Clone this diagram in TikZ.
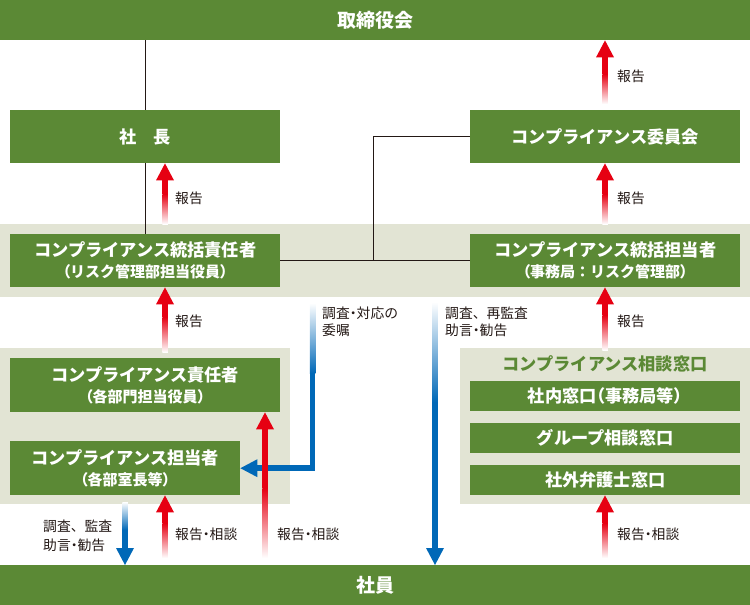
\documentclass[tikz,border=0pt]{standalone}
\usepackage{fontspec}
\setmainfont{Noto Sans CJK JP}
\newfontfamily\jpp[RawFeature=+palt]{Noto Sans CJK JP}
\usetikzlibrary{calc}
\definecolor{grn}{RGB}{91,137,53}
\definecolor{bandc}{RGB}{226,228,212}
\definecolor{arred}{RGB}{230,0,18}
\definecolor{arblue}{RGB}{0,104,183}
\definecolor{ink}{RGB}{35,24,21}
% narrow (proportional) punctuation
\newcommand{\lpar}{{\jpp（}}
\newcommand{\rpar}{{\jpp）}}
\newcommand{\ndot}{{\jpp ・}}
% vertical gradient arrows: #1 colour, #2 tail, #3 tip, #4 fade length
\newcommand{\upgrad}[4]{%
  \shade[top color=#1, bottom color=white] ($(#2)+(-2.75,0)$) rectangle ($(#2)+(2.75,-#4)$);
  \fill[#1] ($(#2)+(-2.75,-#4+0.4)$) rectangle ($(#3)+(2.75,16.5)$);
  \fill[#1] (#3) -- ($(#3)+(-9,17)$) -- ($(#3)+(9,17)$) -- cycle;
}
\newcommand{\downgrad}[4]{%
  \shade[top color=white, bottom color=#1] ($(#2)+(-2.75,0)$) rectangle ($(#2)+(2.75,#4)$);
  \fill[#1] ($(#2)+(-2.75,#4-0.4)$) rectangle ($(#3)+(2.75,-16.5)$);
  \fill[#1] (#3) -- ($(#3)+(-9,-17)$) -- ($(#3)+(9,-17)$) -- cycle;
}
\tikzset{
  gbox/.style={fill=grn, text=white, inner sep=0pt, anchor=north west, align=center,
    font=\fontsize{17.2}{21}\selectfont\bfseries},
  bigbar/.style={gbox, minimum width=750pt, minimum height=40pt, font=\fontsize{19}{22}\selectfont\bfseries},
  wbox/.style={gbox, minimum width=270pt, minimum height=53pt},
  sbox/.style={gbox, minimum width=270pt, minimum height=30pt},
  lbl/.style={text=ink, inner sep=0pt, anchor=west, align=left, font=\fontsize{13.8}{17}\selectfont},
  conn/.style={draw=ink, line width=0.8pt},
}
\newcommand{\subt}[1]{{\fontsize{15}{21}\selectfont\bfseries #1}}
\begin{document}
\begin{tikzpicture}[x=1pt, y=-1pt]
\useasboundingbox (0,0) rectangle (750,605);
% background bands
\fill[bandc] (0,224) rectangle (750,297);
\fill[bandc] (0,348) rectangle (290,504);
\fill[bandc] (460,348) rectangle (750,504);

% boxes
\node[bigbar] (board) at (0,0) {取締役会};
\node[bigbar] (shain) at (0,565) {社員};
\node[wbox] (shacho) at (10,110) {社　長};
\node[wbox] (iinkai) at (470,110) {コンプライアンス委員会};
\node[wbox] (tsekinin) at (10,234) {コンプライアンス統括責任者\\\subt{\lpar リスク管理部担当役員\rpar}};
\node[wbox] (ttanto) at (470,234) {コンプライアンス統括担当者\\\subt{\lpar 事務局：リスク管理部\rpar}};
\node[wbox, minimum height=54pt] (sekinin) at (10,358) {コンプライアンス責任者\\\subt{\lpar 各部門担当役員\rpar}};
\node[wbox, minimum width=230pt, minimum height=54pt] (tanto) at (10,441) {コンプライアンス担当者\\\subt{\lpar 各部室長等\rpar}};
\node[text=grn, inner sep=0pt, font=\fontsize{17.2}{20}\selectfont\bfseries] (mtitle) at (605,364) {コンプライアンス相談窓口};
\node[sbox] (shanai) at (470,381) {社内窓口\lpar 事務局等\rpar};
\node[sbox] (group) at (470,423) {グループ相談窓口};
\node[sbox] (bengo) at (470,465) {社外弁護士窓口};

% thin connectors
\draw[conn] (board.south -| shacho.north) -- (shacho.north);
\draw[conn] (shacho.south) -- (tsekinin.north);
\draw[conn] (tsekinin.east) -- (ttanto.west);
\coordinate (jx) at (373,0);
\draw[conn] (tsekinin.east -| jx) |- (iinkai.west);

% blue arrows
\coordinate (b1t) at (125,502);
\coordinate (b1h) at (shain.north -| b1t);
\downgrad{arblue}{b1t}{b1h}{28}
\coordinate (b2t) at (435,302);
\coordinate (b2h) at (shain.north -| b2t);
\downgrad{arblue}{b2t}{b2h}{100}
\coordinate (b3t) at (312.5,303);
\coordinate (b3c) at (b3t |- tanto.east);
\shade[top color=white, bottom color=arblue] ($(b3t)+(-2.75,0)$) rectangle ($(b3t)+(2.75,70)$);
\draw[arblue, line width=5.5pt] ($(b3t)+(0,69.6)$) -- (b3c) -- ($(tanto.east)+(16.5,0)$);
\fill[arblue] (tanto.east) -- ($(tanto.east)+(17,-9)$) -- ($(tanto.east)+(17,9)$) -- cycle;

% red arrows
\coordinate (r1t) at (165,224);
\coordinate (r1h) at (shacho.south -| r1t);
\upgrad{arred}{r1t}{r1h}{30}
\coordinate (r2t) at (605,104);
\coordinate (r2h) at (board.south -| r2t);
\upgrad{arred}{r2t}{r2h}{30}
\coordinate (r3t) at (605,224);
\coordinate (r3h) at (iinkai.south -| r3t);
\upgrad{arred}{r3t}{r3h}{30}
\coordinate (r4t) at (165,352);
\coordinate (r4h) at (tsekinin.south -| r4t);
\upgrad{arred}{r4t}{r4h}{35}
\coordinate (r5t) at (605,350);
\coordinate (r5h) at (ttanto.south -| r5t);
\upgrad{arred}{r5t}{r5h}{35}
\coordinate (r6t) at (165,558);
\coordinate (r6h) at (tanto.south -| r6t);
\upgrad{arred}{r6t}{r6h}{35}
\coordinate (r7t) at (265,558);
\coordinate (r7h) at (sekinin.south -| r7t);
\upgrad{arred}{r7t}{r7h}{70}
\coordinate (r8t) at (605,558);
\coordinate (r8h) at (bengo.south -| r8t);
\upgrad{arred}{r8t}{r8h}{35}

% labels
\node[lbl] (l1) at (617,76) {報告};
\node[lbl] (l2) at (175,198) {報告};
\node[lbl] (l3) at (617,198) {報告};
\node[lbl] (l4) at (175,321) {報告};
\node[lbl] (l5) at (617,321) {報告};
\node[lbl] (l6) at (175,534) {報告\ndot 相談};
\node[lbl] (l7) at (277,534) {報告\ndot 相談};
\node[lbl] (l8) at (617,534) {報告\ndot 相談};
\node[lbl] (l9) at (322,322) {調査\ndot 対応の\\委嘱};
\node[lbl] (l10) at (445,322) {調査、再監査\\助言\ndot 勧告};
\node[lbl, font=\fontsize{13.8}{19.5}\selectfont] (l11) at (43,536) {調査、監査\\助言\ndot 勧告};
\end{tikzpicture}
\end{document}
